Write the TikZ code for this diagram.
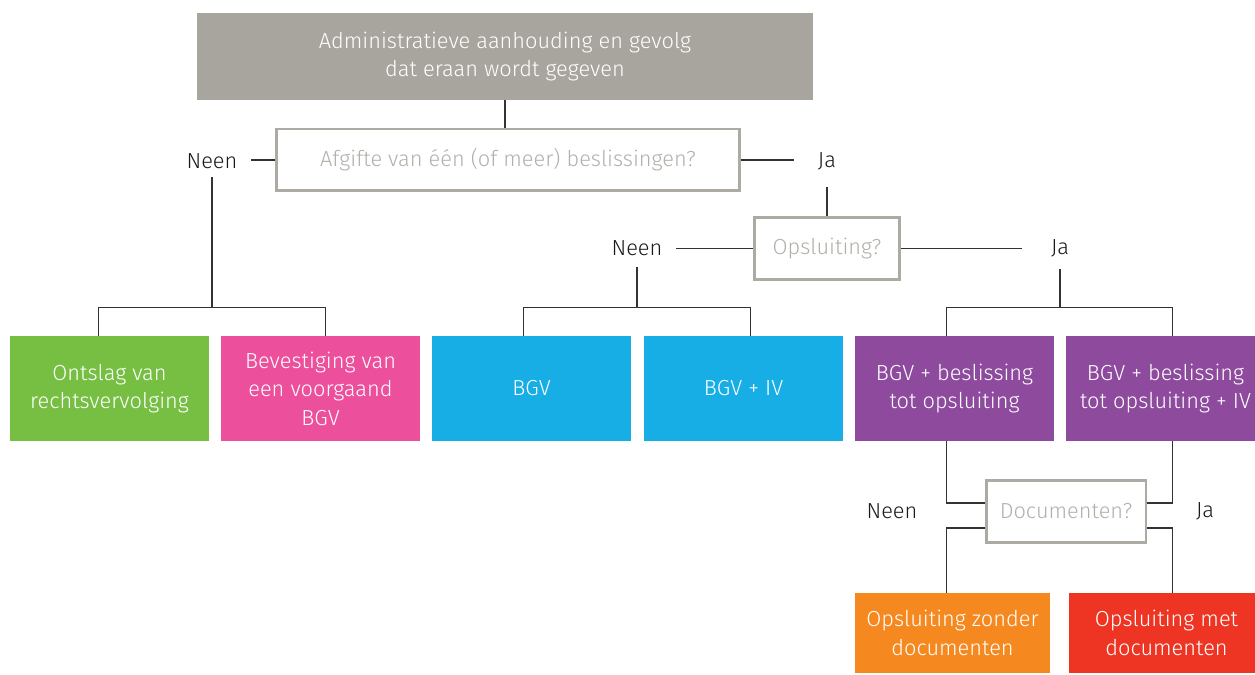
\documentclass[tikz,border=0pt]{standalone}
\usepackage{fontspec}
\setmainfont{Fira Sans}[UprightFont=* Light]
\usepackage{tikz}
\usetikzlibrary{positioning,calc}

\definecolor{rootgray}{HTML}{A8A49E}
\definecolor{askgray}{HTML}{ADA9A3}
\definecolor{asktext}{HTML}{B3AFA9}
\definecolor{linkgray}{HTML}{333333}
\definecolor{dismissgreen}{HTML}{76BF43}
\definecolor{confirmpink}{HTML}{EC4F9B}
\definecolor{bgvblue}{HTML}{16AEE5}
\definecolor{jailpurple}{HTML}{8E4B9E}
\definecolor{nodocorange}{HTML}{F5891F}
\definecolor{docred}{HTML}{EE3524}

\begin{document}
\begin{tikzpicture}[
    x=0.02cm, y=-0.02cm,
    font=\fontsize{12.4pt}{16.2pt}\selectfont,
    outcome/.style={
        rectangle,
        minimum width=3.98cm,
        minimum height=2.1cm,
        align=center,
        text=white,
        inner sep=0pt
    },
    question/.style={
        rectangle,
        draw=askgray,
        line width=1.7pt,
        minimum height=1.24cm,
        align=center,
        text=asktext,
        inner sep=0pt
    },
    answer/.style={inner sep=0pt, text=black!90},
    link/.style={draw=linkgray, line width=0.8pt}
]
    \useasboundingbox (0,0) rectangle (1255,675);

    % Nodes
    \node[outcome,fill=rootgray,minimum width=12.32cm,minimum height=1.74cm] (root) at (505,56.5)
        {Administratieve aanhouding en gevolg\\dat eraan wordt gegeven};
    \node[question,minimum width=9.26cm] (askDecision) at (508,160) {Afgifte van één (of meer) beslissingen?};
    \node[answer] (noDecision) at (212,161) {Neen};
    \node[answer] (yesDecision) at (827,161) {Ja};

    \node[question,minimum width=2.9cm] (askJail) at (827,248.5) {Opsluiting?};
    \node[answer] (noJail) at (637,248.5) {Neen};
    \node[answer] (yesJail) at (1060,248.5) {Ja};

    \node[outcome,fill=dismissgreen] (dismiss) at (109.5,388.5) {Ontslag van\\rechtsvervolging};
    \node[outcome,fill=confirmpink] (confirm) at (320.5,388.5) {Bevestiging van\\een voorgaand\\BGV};
    \node[outcome,fill=bgvblue] (bgv) at (531.5,388.5) {BGV};
    \node[outcome,fill=bgvblue] (bgvIv) at (743.5,388.5) {BGV + IV};
    \node[outcome,fill=jailpurple] (jail) at (954.5,388.5) {BGV + beslissing\\tot opsluiting};
    \node[outcome,fill=jailpurple] (jailIv) at (1165.5,388.5) {BGV + beslissing\\tot opsluiting + IV};

    \node[question,minimum width=3.2cm] (askDocs) at (1066,511.5) {Documenten?};
    \node[answer] (noDocs) at (892,511) {Neen};
    \node[answer] (yesDocs) at (1205,511) {Ja};

    \node[outcome,fill=nodocorange,minimum width=3.9cm,minimum height=1.6cm] (noDocJail) at (952.5,633)
        {Opsluiting zonder\\documenten};
    \node[outcome,fill=docred,minimum width=3.9cm,minimum height=1.6cm] (docJail) at (1166.5,633)
        {Opsluiting met\\documenten};

    % Bus points
    \coordinate (busAl) at (98.5,307.5);
    \coordinate (busAr) at (325.5,307.5);
    \coordinate (busBl) at (523.5,307.5);
    \coordinate (busBr) at (750.5,307.5);
    \coordinate (busCl) at (946.5,307.5);
    \coordinate (busCr) at (1172.5,307.5);

    % Connectors
    \draw[link] (root.south -| 505,0) -- (askDecision.north -| 505,0);
    \draw[link,shorten >=0.26cm] (askDecision.west) -- (askDecision.west -| noDecision.east);
    \draw[link,shorten >=0.48cm] (askDecision.east) -- (askDecision.east -| yesDecision.west);
    \draw[link,shorten <=0.16cm] (noDecision.south) -- (noDecision |- busAl);
    \draw[link] (dismiss.north -| busAl) -- (busAl) -- (busAr) -- (confirm.north -| busAr);
    \draw[link,shorten <=0.34cm] (yesDecision.south) -- (askJail.north);

    \draw[link,shorten >=0.26cm] (askJail.west) -- (askJail.west -| noJail.east);
    \draw[link,shorten >=0.58cm] (askJail.east) -- (askJail.east -| yesJail.west);
    \draw[link,shorten <=0.22cm] (noJail.south) -- (noJail |- busBl);
    \draw[link,shorten <=0.22cm] (yesJail.south) -- (yesJail |- busCl);
    \draw[link] (bgv.north -| busBl) -- (busBl) -- (busBr) -- (bgvIv.north -| busBr);
    \draw[link] (jail.north -| busCl) -- (busCl) -- (busCr) -- (jailIv.north -| busCr);

    \draw[link] (jail.south -| busCl) |- ($(askDocs.west)+(0,-8.5)$);
    \draw[link] (jailIv.south -| busCr) |- ($(askDocs.east)+(0,-8.5)$);
    \draw[link] ($(askDocs.west)+(0,16.5)$) -| (noDocJail.north -| busCl);
    \draw[link] ($(askDocs.east)+(0,16.5)$) -| (docJail.north -| busCr);
\end{tikzpicture}
\end{document}
